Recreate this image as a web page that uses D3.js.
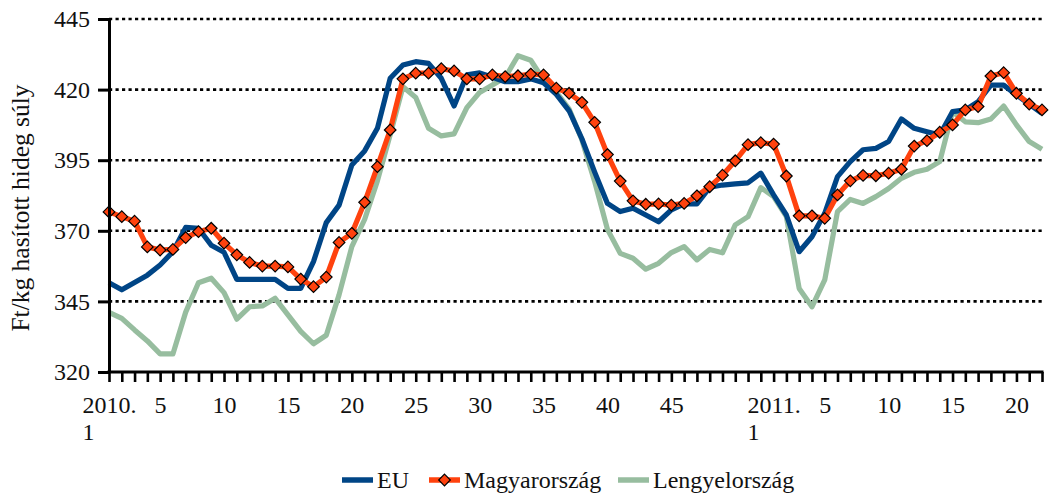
<!DOCTYPE html>
<html>
<head>
<meta charset="utf-8">
<script src="https://cdn.jsdelivr.net/npm/d3@7"></script>
<style>
  body { margin: 0; background: #fff; }
  text { font-family: "Liberation Serif", "Times New Roman", serif; fill: #111; }
</style>
</head>
<body>
<div id="chart"></div>
<script>
// weekly categories: 2010 weeks 1-52, 2011 weeks 1-22
const weeks = ["2010. 1","2","3","4","5","6","7","8","9","10","11","12","13","14","15","16","17","18","19","20",
  "21","22","23","24","25","26","27","28","29","30","31","32","33","34","35","36","37","38","39","40",
  "41","42","43","44","45","46","47","48","49","50","51","52",
  "2011. 1","2","3","4","5","6","7","8","9","10","11","12","13","14","15","16","17","18","19","20","21","22"];
// which categories carry a visible label
const labelledWeeks = [0,4,9,14,19,24,29,34,39,44,52,56,61,66,71];

const euValues = [351.6,349.1,351.7,354.3,357.9,362.6,371.2,370.9,364.9,362.4,352.8,352.8,352.8,352.8,349.6,349.6,
  359.1,372.9,379.1,393.3,398.3,406.3,424.0,428.7,429.9,429.3,424.0,414.2,425.2,425.9,424.4,422.8,422.8,423.8,
  422.4,418.3,412.5,402.6,390.8,379.7,376.8,378.0,375.6,373.2,377.4,379.5,379.5,385.4,386.2,386.6,387.0,390.4,
  382.7,375.6,362.6,367.9,376.2,389.2,394.5,398.7,399.2,401.6,409.6,406.3,405.1,403.9,412.2,412.8,415.7,421.6,
  421.6,418.1,414.9,411.6];
const huValues = [376.7,375.0,373.4,364.3,363.2,363.4,367.6,369.7,370.9,365.6,361.5,358.8,357.5,357.5,357.2,352.9,
  350.2,353.6,365.9,369.1,380.1,392.7,405.7,423.8,425.8,425.8,427.4,426.6,423.8,423.8,425.2,424.6,424.9,425.5,
  425.2,420.5,418.7,415.5,408.4,397.0,387.6,380.6,379.4,379.5,379.1,379.7,382.4,385.6,389.7,394.8,400.5,401.2,
  400.7,389.4,375.3,375.3,374.4,382.7,387.7,389.6,389.5,390.4,391.8,400.0,401.9,404.9,407.5,412.8,414.0,424.8,
  426.0,418.7,414.9,412.8];
const plValues = [341.1,339.0,334.9,331.0,326.4,326.4,341.2,351.6,353.2,348.1,338.7,343.1,343.4,346.1,340.2,334.4,
  330.0,333.0,347.3,364.4,374.0,387.7,404.0,421.0,417.2,406.3,403.6,404.3,413.6,419.0,421.6,424.3,432.0,430.4,
  423.4,419.1,413.1,402.2,387.4,370.5,362.0,360.3,356.4,358.5,362.3,364.4,359.7,363.4,362.2,372.1,375.0,385.3,
  382.1,375.0,349.6,343.1,352.6,376.8,381.1,379.7,382.1,385.0,388.6,390.7,391.8,394.5,412.2,408.6,408.3,409.6,
  414.2,407.5,401.6,398.9];
const yTicks = [320,345,370,395,420,445];

const seriesNames = ["EU","Magyarország","Lengyelország"];
const seriesColors = ["#004586","#ff420e","#97bd9f"];

const W = 1052, H = 497;
const margin = {top: 19, right: 10, bottom: 125, left: 109};
const plotW = 1042 - margin.left, plotH = 372 - margin.top;
const fontSize = "24px";

const svg = d3.select("#chart").append("svg")
  .attr("width", W).attr("height", H)
  .style("background", "#fff");

const g = svg.append("g").attr("transform", `translate(${margin.left},${margin.top})`);

const x = d3.scalePoint().domain(d3.range(weeks.length)).range([0, plotW]);
const y = d3.scaleLinear().domain([320, 445]).range([plotH, 0]);

// dotted gridlines
g.selectAll(".grid").data(yTicks.filter(v => v > 320))
  .enter().append("line")
  .attr("x1", 0).attr("x2", plotW)
  .attr("y1", d => y(d)).attr("y2", d => y(d))
  .attr("stroke", "#000").attr("stroke-width", 2.6)
  .attr("stroke-dasharray", "3.2,3.3");

// lines
const line = d3.line().x((d, i) => x(i)).y(d => y(d));
const allSeries = [euValues, huValues, plValues];
[2, 0, 1].forEach(k => {
  g.append("path").datum(allSeries[k])
    .attr("fill", "none")
    .attr("stroke", seriesColors[k])
    .attr("stroke-width", 5.2)
    .attr("stroke-linejoin", "round")
    .attr("d", line);
});

const diamond = "M0,-5.8L5.8,0L0,5.8L-5.8,0Z";
g.selectAll(".mk").data(huValues).enter().append("path")
  .attr("d", diamond)
  .attr("transform", (d, i) => `translate(${x(i)},${y(d)})`)
  .attr("fill", seriesColors[1])
  .attr("stroke", "#000").attr("stroke-width", 1.2);

// y axis
const yAxis = g.append("g")
  .call(d3.axisLeft(y).tickValues(yTicks).tickSize(11).tickSizeOuter(0).tickPadding(8));
yAxis.select(".domain").attr("stroke", "#000").attr("stroke-width", 3);
yAxis.selectAll(".tick line").attr("stroke", "#000").attr("stroke-width", 3);
yAxis.selectAll("text").style("font-size", fontSize).attr("fill", "#111")
  .style("font-family", "Liberation Serif");

// x axis
const xAxis = g.append("g").attr("transform", `translate(0,${plotH})`)
  .call(d3.axisBottom(x).tickSize(10).tickSizeOuter(0).tickPadding(14)
    .tickFormat(i => labelledWeeks.includes(i) ? weeks[i] : ""));
xAxis.select(".domain").attr("stroke", "#000").attr("stroke-width", 3)
  .attr("d", `M-1.5,0H${plotW + 1.5}`);
xAxis.selectAll(".tick line").attr("stroke", "#000").attr("stroke-width", 2.6);
xAxis.selectAll("text").style("font-size", fontSize).attr("fill", "#111")
  .style("font-family", "Liberation Serif");

// split year labels on two lines
xAxis.selectAll(".tick text").each(function(d) {
  const t = d3.select(this);
  const s = weeks[d];
  if (s.indexOf(". ") > 0) {
    const parts = s.split(" ");
    t.text(parts[0]);
    const w = this.getComputedTextLength();
    d3.select(this.parentNode).append("text")
      .attr("x", -w / 2).attr("y", t.attr("y"))
      .attr("dy", "1.83em")
      .attr("text-anchor", "start")
      .style("font-size", fontSize).style("font-family", "Liberation Serif")
      .attr("fill", "#111")
      .text(parts[1]);
  }
});

// y title
svg.append("text")
  .attr("transform", "translate(29,208) rotate(-90)")
  .attr("text-anchor", "middle")
  .style("font-size", "25.5px")
  .text("Ft/kg hasított hideg súly");

// legend
const legendItems = [
  {name: seriesNames[0], color: seriesColors[0], x: 342, marker: false},
  {name: seriesNames[1], color: seriesColors[1], x: 429, marker: true},
  {name: seriesNames[2], color: seriesColors[2], x: 618, marker: false}
];
const lg = svg.append("g").attr("transform", "translate(0,480)");
legendItems.forEach(it => {
  lg.append("line").attr("x1", it.x).attr("x2", it.x + 31)
    .attr("y1", 0).attr("y2", 0)
    .attr("stroke", it.color).attr("stroke-width", 5.5);
  if (it.marker) {
    lg.append("path").attr("d", diamond)
      .attr("transform", `translate(${it.x + 15.5},0)`)
      .attr("fill", it.color).attr("stroke", "#000").attr("stroke-width", 1.2);
  }
  lg.append("text").attr("x", it.x + 35).attr("y", 8)
    .style("font-size", fontSize).text(it.name);
});
</script>
</body>
</html>
